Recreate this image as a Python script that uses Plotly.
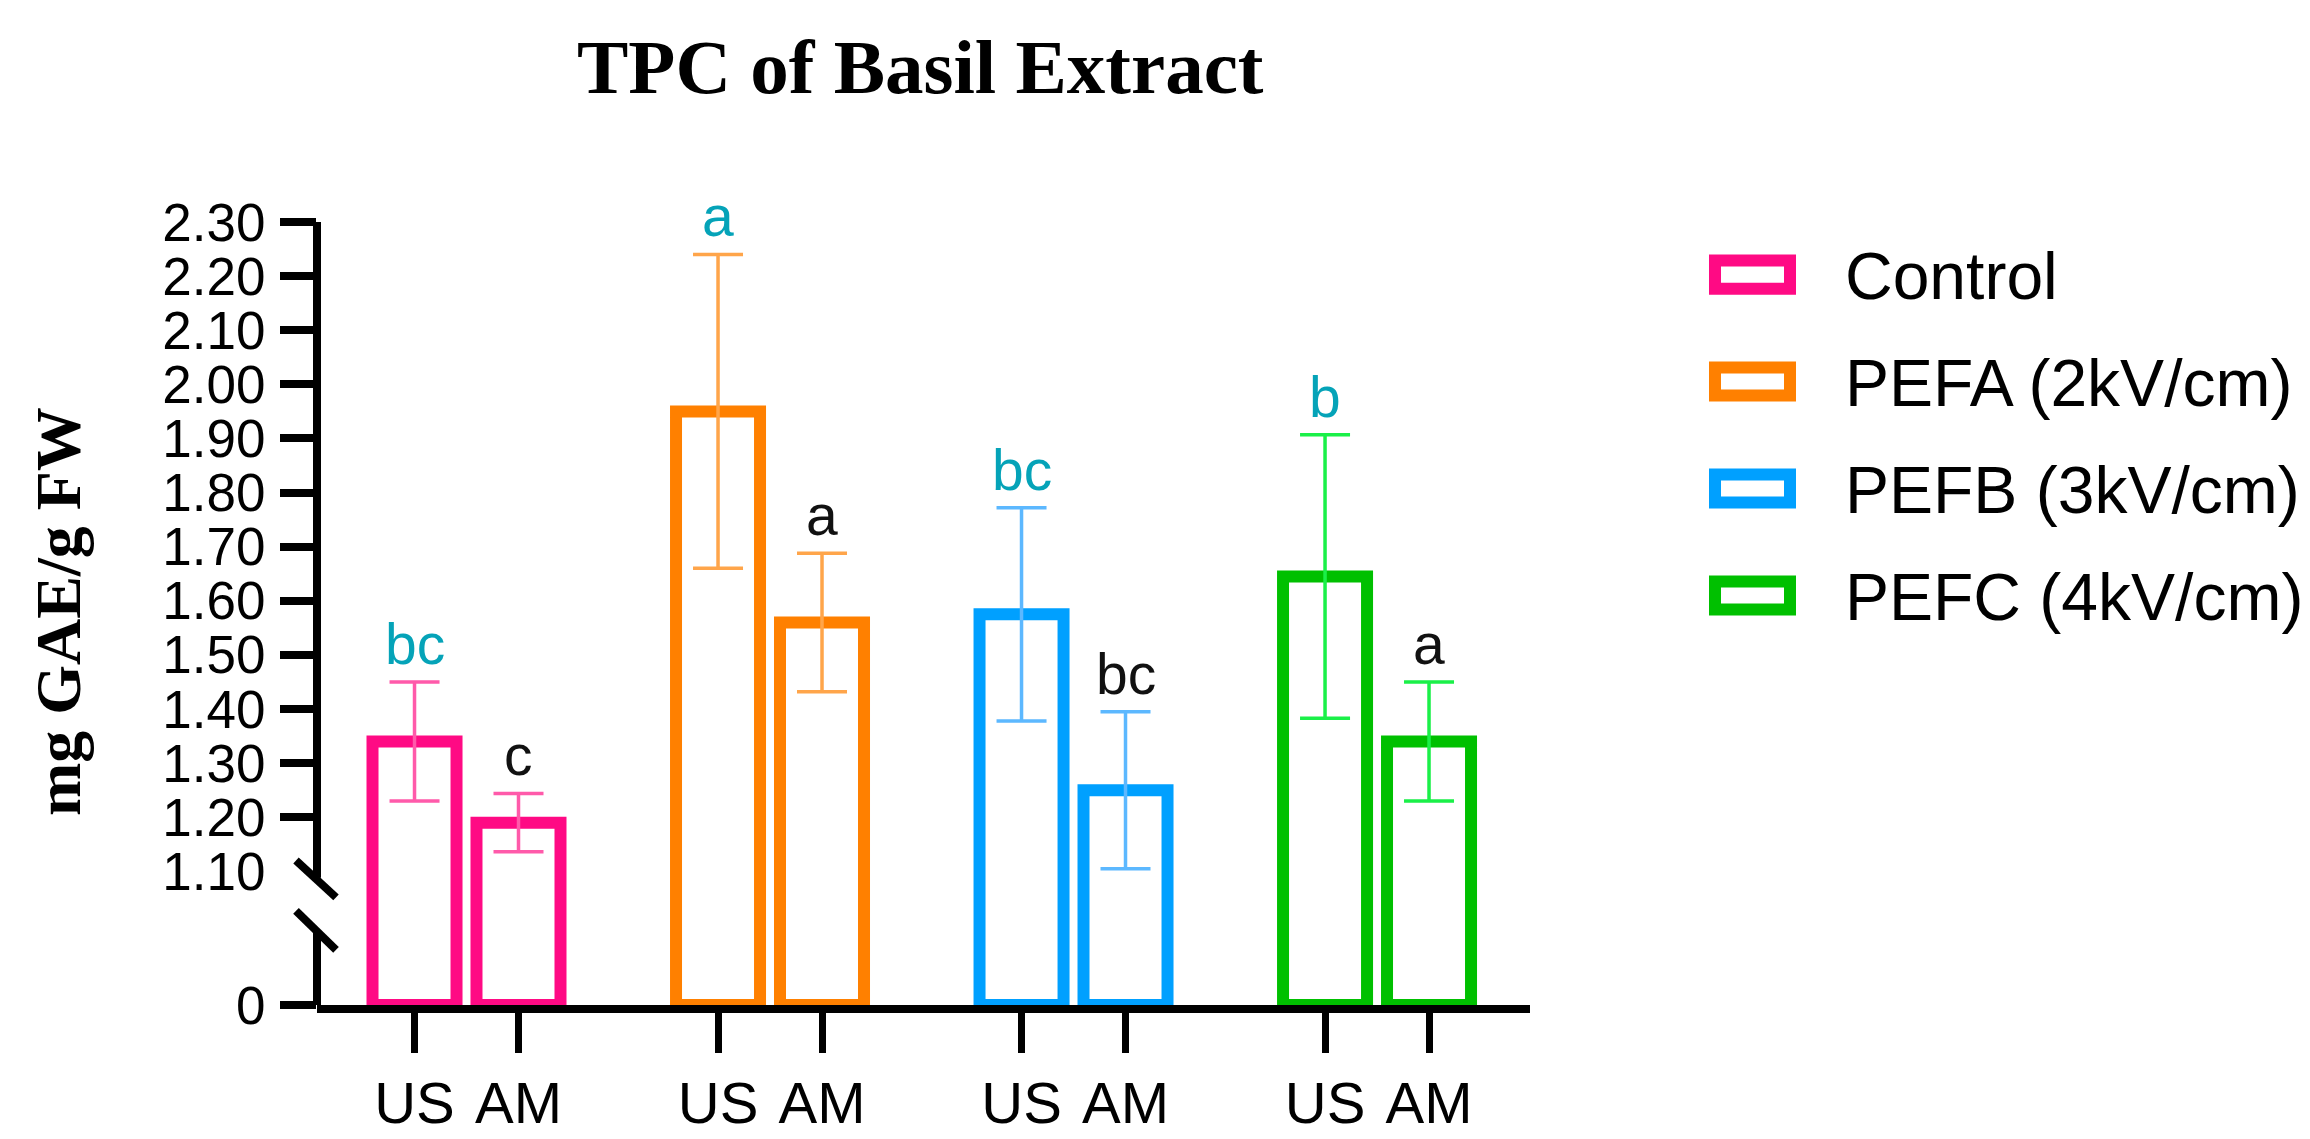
import plotly.graph_objects as go

# ---------------- data ----------------
groups = ["Control", "PEFA (2kV/cm)", "PEFB (3kV/cm)", "PEFC (4kV/cm)"]
methods = ["US", "AM"]
us_mean = [1.34, 1.95, 1.575, 1.645]
us_err = [0.11, 0.29, 0.197, 0.262]
am_mean = [1.19, 1.56, 1.25, 1.34]
am_err = [0.054, 0.128, 0.145, 0.11]
us_letters = ["bc", "a", "bc", "b"]
am_letters = ["c", "a", "bc", "a"]
y_tick_values = [1.10, 1.20, 1.30, 1.40, 1.50, 1.60, 1.70, 1.80, 1.90, 2.00, 2.10, 2.20, 2.30]
y_tick_labels = ["1.10", "1.20", "1.30", "1.40", "1.50", "1.60", "1.70", "1.80",
                 "1.90", "2.00", "2.10", "2.20", "2.30"]

# ---------------- style ----------------
bar_colors = ["#FF0A84", "#FF8000", "#00A0FF", "#00C000"]
err_colors = ["#FF5AAA", "#FFA54A", "#5CB8FF", "#1AF048"]
letter_colors = {"US": "#05A3B8", "AM": "#111111"}
SANS = "Liberation Sans, Arial, sans-serif"
SERIF = "Liberation Serif, Times New Roman, serif"

W, H = 2310, 1139
L, R, T, B = 309, 1522, 214, 1019          # plot area in pixels
Z = 0.853                                   # display position of value 0 (broken axis)
Y_TOP = 2.30
OFF = 0.1713                                # half distance between US and AM bars
BAR_W = 0.2768
X_RANGE = [-0.4926, 3.504]


def px_x(px):
    return (px - L) / (R - L)


def px_y(py):
    return (B - py) / (B - T)


fig = go.Figure()

for i, g in enumerate(groups):
    xs = [i - OFF, i + OFF]
    vals = [us_mean[i], am_mean[i]]
    errs = [us_err[i], am_err[i]]
    fig.add_trace(go.Bar(
        x=xs, y=[v - Z for v in vals], base=Z, width=BAR_W,
        marker=dict(color="white", line=dict(color=bar_colors[i], width=12)),
        showlegend=False, name=g, hoverinfo="skip",
    ))
    fig.add_trace(go.Scatter(
        x=xs, y=vals, mode="markers",
        marker=dict(size=1, color="rgba(0,0,0,0)"),
        error_y=dict(type="data", array=errs, visible=True,
                     color=err_colors[i], thickness=3.5, width=25),
        showlegend=False, hoverinfo="skip",
    ))

# significance letters
annotations = []
for i in range(len(groups)):
    for m, vals, errs, letters in (("US", us_mean, us_err, us_letters),
                                   ("AM", am_mean, am_err, am_letters)):
        x = i - OFF if m == "US" else i + OFF
        annotations.append(dict(
            x=x, y=vals[i] + errs[i], xref="x", yref="y",
            text=letters[i], showarrow=False, yanchor="bottom", yshift=4,
            font=dict(family=SANS, size=57, color=letter_colors[m]),
        ))

# title and y-axis title
annotations.append(dict(
    x=px_x(912), y=px_y(55), xref="paper", yref="paper", showarrow=False,
    text="<b>TPC of Basil Extract</b>", xanchor="center", yanchor="middle",
    font=dict(family=SERIF, size=77, color="black"),
))
annotations.append(dict(
    x=px_x(50), y=px_y(615), xref="paper", yref="paper", showarrow=False,
    text="<b>mg GAE/g FW</b>", textangle=-90, xanchor="center", yanchor="middle",
    font=dict(family=SERIF, size=64, color="black"),
))

# legend (custom swatches)
shapes = []
legend_centers = [268, 378, 488, 598]
for i, g in enumerate(groups):
    cy = legend_centers[i]
    shapes.append(dict(
        type="rect", xref="paper", yref="paper",
        x0=px_x(1707), x1=px_x(1782), y0=px_y(cy + 14.5), y1=px_y(cy - 14.5),
        line=dict(color=bar_colors[i], width=12), fillcolor="white", layer="above",
    ))
    annotations.append(dict(
        x=px_x(1835), y=px_y(cy + 2), xref="paper", yref="paper", showarrow=False,
        text=g, xanchor="left", yanchor="middle",
        font=dict(family=SANS, size=66, color="black"),
    ))

# broken y-axis line and break marks
BREAK_HI, BREAK_LO = 1.088, 0.987
shapes.append(dict(type="line", xref="paper", yref="y", x0=0, x1=0, y0=Y_TOP + 0.007, y1=BREAK_HI,
                   line=dict(color="black", width=8), layer="above"))
shapes.append(dict(type="line", xref="paper", yref="y", x0=0, x1=0, y0=BREAK_LO, y1=Z,
                   line=dict(color="black", width=8), layer="above"))
for y0, y1 in ((1.120, 1.052), (1.027, 0.955)):
    shapes.append(dict(type="line", xref="paper", yref="y", xsizemode="pixel", xanchor=0,
                       x0=-21, x1=19, y0=y0, y1=y1,
                       line=dict(color="black", width=8), layer="above"))

x_tickvals = []
x_ticktext = []
for i in range(len(groups)):
    x_tickvals += [i - OFF, i + OFF]
    x_ticktext += methods

fig.update_layout(
    width=W, height=H,
    margin=dict(l=L, r=W - R, t=T, b=H - B, pad=0),
    paper_bgcolor="white", plot_bgcolor="white",
    barmode="overlay",
    xaxis=dict(
        range=X_RANGE, tickvals=x_tickvals, ticktext=x_ticktext,
        ticks="outside", ticklen=40, tickwidth=7, tickcolor="black",
        showline=True, linewidth=8, linecolor="black",
        showgrid=False, zeroline=False,
        tickfont=dict(family=SANS, size=58, color="black"),
    ),
    yaxis=dict(
        range=[Z, Y_TOP], tickvals=[Z] + y_tick_values, ticktext=["0"] + y_tick_labels,
        ticks="outside", ticklen=40, tickwidth=8, tickcolor="rgba(0,0,0,0)",
        showline=False, showgrid=False, zeroline=False,
        tickfont=dict(family=SANS, size=53, color="black"),
    ),
    yaxis2=dict(
        range=[Z, Y_TOP], overlaying="y", side="left",
        tickvals=[Z] + y_tick_values[1:], showticklabels=False,
        ticks="outside", ticklen=36, tickwidth=8, tickcolor="black",
        showline=False, showgrid=False, zeroline=False,
    ),
    annotations=annotations,
    shapes=shapes,
)

# dummy trace so yaxis2 is rendered
fig.add_trace(go.Scatter(x=[None], y=[None], yaxis="y2", showlegend=False, hoverinfo="skip"))

fig.write_html("out.html")
